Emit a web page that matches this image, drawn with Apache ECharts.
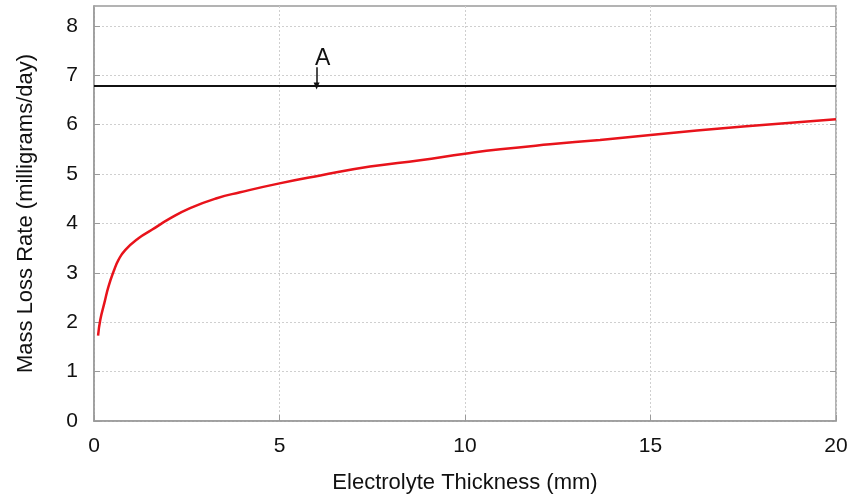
<!DOCTYPE html>
<html>
<head>
<meta charset="utf-8">
<script src="https://cdn.jsdelivr.net/npm/echarts@6/dist/echarts.min.js"></script>
<style>
  html, body { margin: 0; padding: 0; background: #fff; }
  #chart { width: 854px; height: 497px; }
</style>
</head>
<body>
<div id="chart"></div>
<script>
// Mass loss rate versus electrolyte thickness
const thickness = [0.11, 0.17, 0.28, 0.39, 0.53, 0.66, 0.84, 1.2, 1.56, 2.05, 2.59, 3.31, 3.94, 5, 6.1, 7.44, 8.79, 10, 10.95, 12.29, 13.64, 15, 17.5, 20];
const lossRate  = [1.73, 2.05, 2.39, 2.72, 3.03, 3.26, 3.46, 3.70, 3.87, 4.10, 4.31, 4.51, 4.63, 4.81, 4.97, 5.15, 5.28, 5.41, 5.50, 5.60, 5.69, 5.79, 5.96, 6.11];

// Reference level and its marker "A"
const limitLevel = 6.78;
const markerX = 6;
const markerTop = 7.16;
const markerText = 'A';

const xTicks = [0, 5, 10, 15, 20];
const yTicks = [0, 1, 2, 3, 4, 5, 6, 7, 8];

const font = 'Liberation Sans, Arial, sans-serif';
const axisGray = '#9a9a9a';
const gridStyle = { color: '#cfcfcf', type: [2, 2], width: 1 };

const chart = echarts.init(document.getElementById('chart'), null, { renderer: 'canvas' });

chart.setOption({
  animation: false,
  backgroundColor: '#ffffff',
  grid: {
    left: 94, right: 18, top: 6, bottom: 76,
    show: true, borderColor: axisGray, borderWidth: 1.5,
    containLabel: false, outerBoundsMode: 'none'
  },
  xAxis: {
    type: 'value', min: 0, max: 20, interval: 5,
    name: 'Electrolyte Thickness (mm)', nameLocation: 'middle', nameGap: 51,
    nameTextStyle: { fontFamily: font, fontSize: 22, color: '#111111' },
    axisLine: { show: true, lineStyle: { color: axisGray, width: 1.5 } },
    axisTick: { show: true, inside: true, length: 6, lineStyle: { color: axisGray } },
    axisLabel: {
      fontFamily: font, fontSize: 21, color: '#111111', margin: 15,
      customValues: xTicks
    },
    splitLine: { show: true, lineStyle: gridStyle }
  },
  yAxis: [{
    type: 'value', min: 0, max: 8.4, interval: 1,
    name: 'Mass Loss Rate (milligrams/day)', nameLocation: 'middle', nameGap: 57,
    nameTextStyle: { fontFamily: font, fontSize: 22, color: '#111111' },
    axisLine: { show: true, lineStyle: { color: axisGray, width: 1.5 } },
    axisTick: { show: true, inside: true, length: 6, lineStyle: { color: axisGray }, customValues: yTicks },
    axisLabel: {
      fontFamily: font, fontSize: 21, color: '#111111', margin: 16,
      customValues: yTicks
    },
    splitLine: { show: true, lineStyle: gridStyle }
  }, {
    type: 'value', min: 0, max: 8.4, interval: 1, position: 'right',
    axisLine: { show: false },
    axisTick: { show: true, inside: true, length: 6, lineStyle: { color: axisGray }, customValues: yTicks.slice(1) },
    axisLabel: { show: false },
    splitLine: { show: false }
  }],
  series: [
    {
      name: 'rate',
      type: 'line',
      data: thickness.map((t, i) => [t, lossRate[i]]),
      smooth: 0.5,
      showSymbol: false,
      lineStyle: { color: '#e8131b', width: 2.5 },
      z: 3
    },
    {
      name: 'limit',
      type: 'line',
      data: [[0, limitLevel], [20, limitLevel]],
      showSymbol: false,
      lineStyle: { color: '#111111', width: 2 },
      z: 4,
      markLine: {
        silent: true,
        symbol: ['none', 'triangle'],
        symbolSize: [6, 7],
        lineStyle: { color: '#111111', width: 1.5, type: 'solid' },
        label: {
          show: true, position: 'start', formatter: markerText,
          fontFamily: font, fontSize: 23, color: '#111111',
          distance: 0, offset: [6, 3]
        },
        data: [[
          { coord: [markerX, markerTop] },
          { coord: [markerX, limitLevel] }
        ]]
      }
    }
  ]
});
</script>
</body>
</html>
